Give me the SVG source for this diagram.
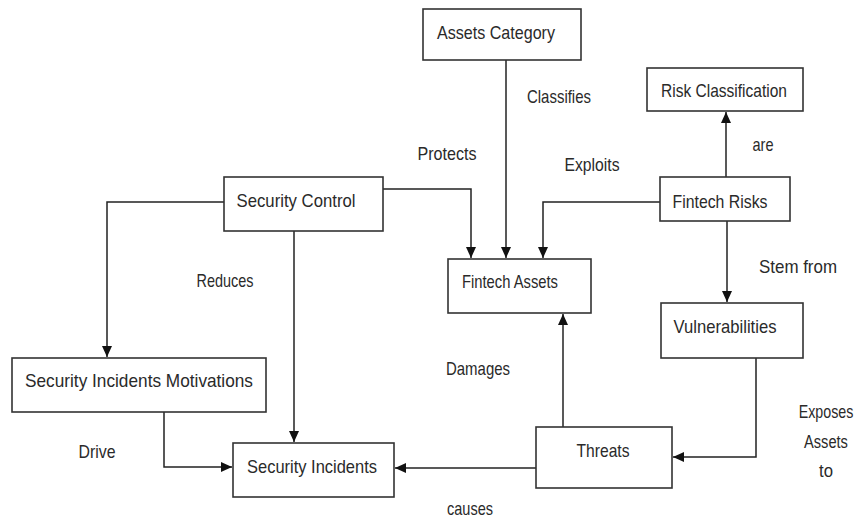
<svg xmlns="http://www.w3.org/2000/svg" width="856" height="522" viewBox="0 0 856 522">
<style>
.box{fill:#fff;stroke:#333;stroke-width:1.6}
.t{font-family:"Liberation Sans",Arial,sans-serif;font-size:19px;fill:#2a2a2a;text-anchor:middle}
.c{fill:none;stroke:#222;stroke-width:1.5}
</style>
<defs>
<marker id="ah" markerUnits="userSpaceOnUse" markerWidth="12" markerHeight="10" refX="11" refY="5" orient="auto">
<path d="M0,0 L11,5 L0,10 z" fill="#111"/>
</marker>
</defs>
<rect width="856" height="522" fill="#fff"/>
<g id="connectors">
<path class="c" d="M506,60 V258" marker-end="url(#ah)"/>
<path class="c" d="M383,189 H471 V258" marker-end="url(#ah)"/>
<path class="c" d="M660,202 H543 V258" marker-end="url(#ah)"/>
<path class="c" d="M726,177 V112" marker-end="url(#ah)"/>
<path class="c" d="M727,221 V302" marker-end="url(#ah)"/>
<path class="c" d="M756,358 V457 H673" marker-end="url(#ah)"/>
<path class="c" d="M563,427 V314" marker-end="url(#ah)"/>
<path class="c" d="M536,468 H395" marker-end="url(#ah)"/>
<path class="c" d="M224,202 H107 V357" marker-end="url(#ah)"/>
<path class="c" d="M294,231 V442" marker-end="url(#ah)"/>
<path class="c" d="M164,412 V467 H232" marker-end="url(#ah)"/>
</g>
<g id="labels">
<text class="t" x="559" y="103" textLength="64" lengthAdjust="spacingAndGlyphs">Classifies</text>
<text class="t" x="447" y="160" textLength="59" lengthAdjust="spacingAndGlyphs">Protects</text>
<text class="t" x="592" y="171" textLength="55" lengthAdjust="spacingAndGlyphs">Exploits</text>
<text class="t" x="763" y="151" textLength="21" lengthAdjust="spacingAndGlyphs">are</text>
<text class="t" x="798" y="273" textLength="78" lengthAdjust="spacingAndGlyphs">Stem from</text>
<text class="t" x="225" y="287" textLength="57" lengthAdjust="spacingAndGlyphs">Reduces</text>
<text class="t" x="478" y="375" textLength="64" lengthAdjust="spacingAndGlyphs">Damages</text>
<text class="t" x="97" y="458" textLength="37" lengthAdjust="spacingAndGlyphs">Drive</text>
<text class="t" x="470" y="515" textLength="46" lengthAdjust="spacingAndGlyphs">causes</text>
<text class="t" transform="translate(826,418) scale(0.75,1)">Exposes</text>
<text class="t" transform="translate(826,448) scale(0.77,1)">Assets</text>
<text class="t" transform="translate(826,477) scale(0.88,1)">to</text>
</g>
<g id="assets-category">
<rect class="box" x="423" y="9" width="158" height="51"/>
<text class="t" x="496" y="39" textLength="118" lengthAdjust="spacingAndGlyphs">Assets Category</text>
</g>
<g id="risk-classification">
<rect class="box" x="647" y="68" width="156" height="43"/>
<text class="t" x="724" y="97" textLength="126" lengthAdjust="spacingAndGlyphs">Risk Classification</text>
</g>
<g id="fintech-risks">
<rect class="box" x="660" y="177" width="130" height="44"/>
<text class="t" x="720" y="208" textLength="95" lengthAdjust="spacingAndGlyphs">Fintech Risks</text>
</g>
<g id="security-control">
<rect class="box" x="224" y="177" width="159" height="54"/>
<text class="t" x="296" y="207" textLength="119" lengthAdjust="spacingAndGlyphs">Security Control</text>
</g>
<g id="fintech-assets">
<rect class="box" x="448" y="259" width="143" height="54"/>
<text class="t" x="510" y="288" textLength="96" lengthAdjust="spacingAndGlyphs">Fintech Assets</text>
</g>
<g id="vulnerabilities">
<rect class="box" x="661" y="303" width="142" height="55"/>
<text class="t" x="725" y="333" textLength="103" lengthAdjust="spacingAndGlyphs">Vulnerabilities</text>
</g>
<g id="security-incidents-motivations">
<rect class="box" x="12" y="358" width="254" height="54"/>
<text class="t" x="139" y="387" textLength="228" lengthAdjust="spacingAndGlyphs">Security Incidents Motivations</text>
</g>
<g id="threats">
<rect class="box" x="536" y="427" width="136" height="61"/>
<text class="t" x="603" y="457" textLength="53" lengthAdjust="spacingAndGlyphs">Threats</text>
</g>
<g id="security-incidents">
<rect class="box" x="233" y="443" width="161" height="54"/>
<text class="t" x="312" y="473" textLength="130" lengthAdjust="spacingAndGlyphs">Security Incidents</text>
</g>
</svg>
